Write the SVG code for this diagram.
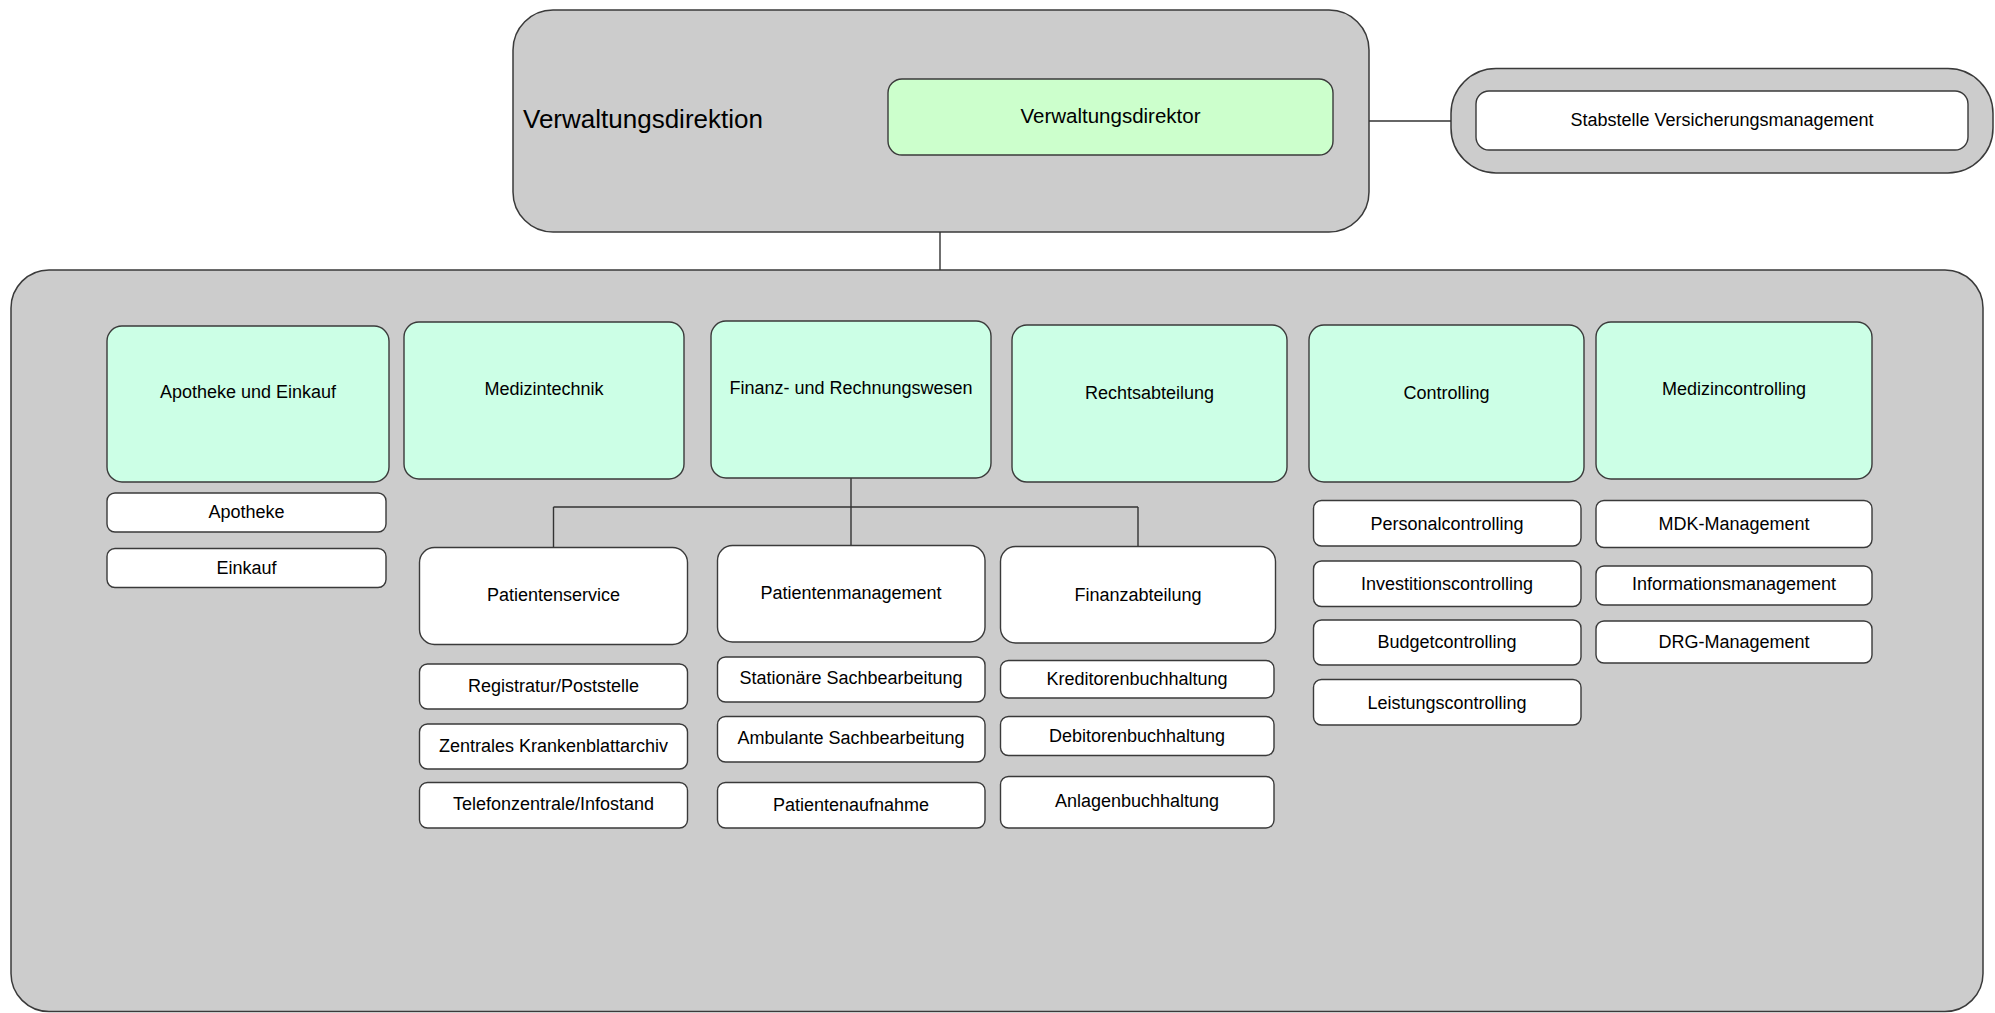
<svg xmlns="http://www.w3.org/2000/svg" width="1995" height="1013" viewBox="0 0 1995 1013">
<style>
.cont{fill:#cccccc;stroke:#3a3a3a;stroke-width:1.5}
.hd{fill:#ccffe6;stroke:#3a3a3a;stroke-width:1.4}
.dir{fill:#ccffcc;stroke:#3a3a3a;stroke-width:1.4}
.bx{fill:#ffffff;stroke:#3a3a3a;stroke-width:1.4}
.t{font-family:"Liberation Sans",Arial,sans-serif;font-size:18px;fill:#000;text-anchor:middle}
.conn line{stroke:#333;stroke-width:1.4}
</style>
<rect width="1995" height="1013" fill="#ffffff"/>
<g id="verwaltungsdirektion">
<rect class="cont" x="513" y="10" width="856" height="222" rx="40"/>
<text x="523" y="127.5" font-family="Liberation Sans, Arial, sans-serif" font-size="26" fill="#000">Verwaltungsdirektion</text>
</g>
<g id="verwaltungsdirektor">
<rect class="dir" x="888" y="79" width="445" height="76" rx="14"/>
<text class="t" x="1110.5" y="123" style="font-size:20.5px">Verwaltungsdirektor</text>
</g>
<g id="stabstelle">
<rect class="cont" x="1451" y="68.5" width="542" height="104.5" rx="45"/>
<rect class="bx" x="1476" y="91" width="492" height="59" rx="13"/>
<text class="t" x="1722" y="126">Stabstelle Versicherungsmanagement</text>
</g>
<g id="bereich">
<rect class="cont" x="11" y="270" width="1972" height="741.5" rx="38"/>
</g>
<g class="conn" id="connectors">
<line x1="940" y1="232" x2="940" y2="270"/>
<line x1="1369" y1="121" x2="1451" y2="121"/>
<line x1="851" y1="478" x2="851" y2="545.5"/>
<line x1="553.5" y1="507" x2="1138" y2="507"/>
<line x1="553.5" y1="507" x2="553.5" y2="547.5"/>
<line x1="1138" y1="507" x2="1138" y2="546.5"/>
</g>
<g id="apotheke-einkauf">
<rect class="hd" x="107" y="326" width="282" height="156" rx="15"/>
<text class="t" x="248" y="398.3">Apotheke und Einkauf</text>
</g>
<g id="medizintechnik">
<rect class="hd" x="404" y="322" width="280" height="157" rx="15"/>
<text class="t" x="544" y="394.5">Medizintechnik</text>
</g>
<g id="finanz">
<rect class="hd" x="711" y="321" width="280" height="157" rx="15"/>
<text class="t" x="851" y="393.5">Finanz- und Rechnungswesen</text>
</g>
<g id="rechtsabteilung">
<rect class="hd" x="1012" y="325" width="275" height="157" rx="15"/>
<text class="t" x="1149.5" y="398.5">Rechtsabteilung</text>
</g>
<g id="controlling">
<rect class="hd" x="1309" y="325" width="275" height="157" rx="15"/>
<text class="t" x="1446.5" y="398.5">Controlling</text>
</g>
<g id="medizincontrolling">
<rect class="hd" x="1596" y="322" width="276" height="157" rx="15"/>
<text class="t" x="1734" y="395">Medizincontrolling</text>
</g>
<g id="apotheke">
<rect class="bx" x="107" y="493" width="279" height="39" rx="8"/>
<text class="t" x="246.5" y="518.3">Apotheke</text>
</g>
<g id="einkauf">
<rect class="bx" x="107" y="548.5" width="279" height="39" rx="8"/>
<text class="t" x="246.5" y="573.5">Einkauf</text>
</g>
<g id="patientenservice">
<rect class="bx" x="419.5" y="547.5" width="268" height="97" rx="15"/>
<text class="t" x="553.5" y="600.5">Patientenservice</text>
</g>
<g id="registratur">
<rect class="bx" x="419.5" y="664" width="268" height="45" rx="8"/>
<text class="t" x="553.5" y="691.5">Registratur/Poststelle</text>
</g>
<g id="krankenblattarchiv">
<rect class="bx" x="419.5" y="724" width="268" height="45" rx="8"/>
<text class="t" x="553.5" y="751.5">Zentrales Krankenblattarchiv</text>
</g>
<g id="telefonzentrale">
<rect class="bx" x="419.5" y="782.5" width="268" height="45.5" rx="8"/>
<text class="t" x="553.5" y="810">Telefonzentrale/Infostand</text>
</g>
<g id="patientenmanagement">
<rect class="bx" x="717.5" y="545.5" width="267.5" height="96.5" rx="15"/>
<text class="t" x="851" y="599">Patientenmanagement</text>
</g>
<g id="stationaer">
<rect class="bx" x="717.5" y="657" width="267.5" height="45" rx="8"/>
<text class="t" x="851" y="684">Stationäre Sachbearbeitung</text>
</g>
<g id="ambulant">
<rect class="bx" x="717.5" y="716.5" width="267.5" height="45.5" rx="8"/>
<text class="t" x="851" y="744">Ambulante Sachbearbeitung</text>
</g>
<g id="patientenaufnahme">
<rect class="bx" x="717.5" y="782.5" width="267.5" height="45.5" rx="8"/>
<text class="t" x="851" y="811">Patientenaufnahme</text>
</g>
<g id="finanzabteilung">
<rect class="bx" x="1000.5" y="546.5" width="275" height="96.5" rx="15"/>
<text class="t" x="1138" y="600.5">Finanzabteilung</text>
</g>
<g id="kreditoren">
<rect class="bx" x="1000.5" y="660.5" width="273.5" height="37.5" rx="8"/>
<text class="t" x="1137" y="685">Kreditorenbuchhaltung</text>
</g>
<g id="debitoren">
<rect class="bx" x="1000.5" y="716.5" width="273.5" height="39" rx="8"/>
<text class="t" x="1137" y="742">Debitorenbuchhaltung</text>
</g>
<g id="anlagen">
<rect class="bx" x="1000.5" y="776.5" width="273.5" height="51.5" rx="8"/>
<text class="t" x="1137" y="807">Anlagenbuchhaltung</text>
</g>
<g id="personalcontrolling">
<rect class="bx" x="1313.5" y="500.5" width="267.5" height="45.5" rx="8"/>
<text class="t" x="1447" y="529.5">Personalcontrolling</text>
</g>
<g id="investitionscontrolling">
<rect class="bx" x="1313.5" y="561" width="267.5" height="45.5" rx="8"/>
<text class="t" x="1447" y="590">Investitionscontrolling</text>
</g>
<g id="budgetcontrolling">
<rect class="bx" x="1313.5" y="620" width="267.5" height="45" rx="8"/>
<text class="t" x="1447" y="648">Budgetcontrolling</text>
</g>
<g id="leistungscontrolling">
<rect class="bx" x="1313.5" y="679.5" width="267.5" height="45.5" rx="8"/>
<text class="t" x="1447" y="709">Leistungscontrolling</text>
</g>
<g id="mdk">
<rect class="bx" x="1596" y="500.5" width="276" height="47" rx="8"/>
<text class="t" x="1734" y="530">MDK-Management</text>
</g>
<g id="informationsmanagement">
<rect class="bx" x="1596" y="566" width="276" height="39" rx="8"/>
<text class="t" x="1734" y="590">Informationsmanagement</text>
</g>
<g id="drg">
<rect class="bx" x="1596" y="621" width="276" height="42" rx="8"/>
<text class="t" x="1734" y="647.5">DRG-Management</text>
</g>
</svg>
